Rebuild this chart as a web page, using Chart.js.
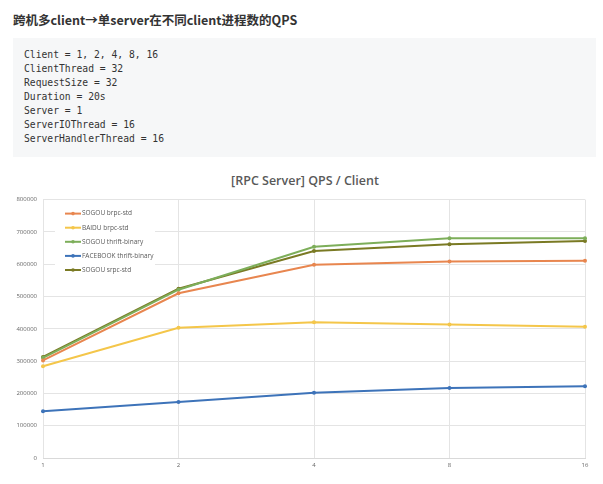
<!DOCTYPE html>
<html>
<head>
<meta charset="utf-8">
<script src="https://cdn.jsdelivr.net/npm/chart.js@4/dist/chart.umd.min.js"></script>
<style>
  html, body { margin: 0; padding: 0; background: #fff; }
  body { width: 603px; height: 484px; position: relative; overflow: hidden; font-family: "Noto Sans CJK SC", "Noto Sans", sans-serif; }
  h3 { position: absolute; left: 13px; top: 10px; margin: 0; font-size: 12.5px; font-weight: bold; color: #333; line-height: 20px; }
  pre { position: absolute; left: 13px; top: 38px; width: 583px; height: 119px; margin: 0; box-sizing: border-box;
        padding: 10px 11px; background: #f6f7f8; font-family: "DejaVu Sans Mono", monospace; font-size: 9.7px; line-height: 14px; color: #333; }
  #chartTitle { position: absolute; left: 0; width: 610px; top: 172px; text-align: center; font-family: "Open Sans", sans-serif; font-size: 12.5px; font-weight: 600; color: #595959; }
  #wrap { position: absolute; left: 0; top: 190px; width: 603px; height: 288px; }
</style>
</head>
<body>
<h3>跨机多client→单server在不同client进程数的QPS</h3>
<pre>Client = 1, 2, 4, 8, 16
ClientThread = 32
RequestSize = 32
Duration = 20s
Server = 1
ServerIOThread = 16
ServerHandlerThread = 16</pre>
<div id="chartTitle">[RPC Server] QPS / Client</div>
<div id="wrap"><canvas id="chart"></canvas></div>
<script>
// 数据
const clients = ["1", "2", "4", "8", "16"];
const sogouBrpc = [302000, 510000, 598000, 608000, 611000];
const baiduBrpc = [284000, 403000, 420000, 413000, 406000];
const sogouThrift = [310000, 521000, 654000, 680000, 680000];
const facebookThrift = [145000, 173000, 202000, 217000, 222000];
const sogouSrpc = [313000, 524000, 641000, 662000, 672000];

const series = [
    { label: "SOGOU brpc-std", data: sogouBrpc, color: "#E8864F" },
    { label: "BAIDU brpc-std", data: baiduBrpc, color: "#F4C64A" },
    { label: "SOGOU thrift-binary", data: sogouThrift, color: "#7DAE5A" },
    { label: "FACEBOOK thrift-binary", data: facebookThrift, color: "#3D73B9" },
    { label: "SOGOU srpc-std", data: sogouSrpc, color: "#7A7A24" }
];

// 图例画在绘图区里，白底
const insideLegend = {
    id: "insideLegend",
    afterDatasetsDraw(chart) {
        const ctx = chart.ctx;
        const a = chart.chartArea;
        ctx.save();
        ctx.fillStyle = "#fff";
        ctx.fillRect(a.left + 12, a.top + 5, 100, 72);
        ctx.font = "6.5px 'Open Sans', sans-serif";
        ctx.textBaseline = "middle";
        chart.data.datasets.forEach((ds, i) => {
            const y = a.top + 14 + i * 14.1;
            const x = a.left + 22;
            ctx.strokeStyle = ds.borderColor;
            ctx.lineWidth = 2;
            ctx.beginPath();
            ctx.moveTo(x, y);
            ctx.lineTo(x + 16, y);
            ctx.stroke();
            ctx.fillStyle = ds.borderColor;
            ctx.beginPath();
            ctx.arc(x + 8, y, 1.8, 0, Math.PI * 2);
            ctx.fill();
            ctx.fillStyle = "#595959";
            ctx.fillText(ds.label, x + 17, y);
        });
        ctx.restore();
    }
};

const ctx = document.getElementById("chart").getContext("2d");
const chart = new Chart(ctx, {
    type: "line",
    data: {
        labels: clients,
        datasets: series.map(s => ({
            label: s.label,
            data: s.data,
            borderColor: s.color,
            backgroundColor: s.color,
            borderWidth: 2,
            pointRadius: 2,
            pointBorderWidth: 0,
            pointHoverRadius: 2,
            tension: 0
        }))
    },
    options: {
        responsive: true,
        maintainAspectRatio: false,
        animation: false,
        layout: { padding: { top: 8, right: 18, left: 0, bottom: 0 } },
        plugins: {
            legend: { display: false },
            title: { display: false },
            tooltip: { enabled: false }
        },
        scales: {
            x: {
                offset: false,
                grid: { color: "#e4e4e4", drawTicks: false },
                border: { color: "#d9d9d9" },
                ticks: { color: "#666", font: { size: 6, family: "Open Sans" }, padding: 4 },
                afterFit(scale) { scale.height = 20; }
            },
            y: {
                min: 0,
                max: 800000,
                grid: { color: "#e4e4e4", drawTicks: false },
                border: { display: false },
                ticks: {
                    stepSize: 100000, color: "#666", font: { size: 6, family: "Open Sans" }, padding: 6,
                    callback: v => String(v)
                },
                afterFit(scale) { scale.width = 43; }
            }
        }
    },
    plugins: [insideLegend]
});
</script>
</body>
</html>
